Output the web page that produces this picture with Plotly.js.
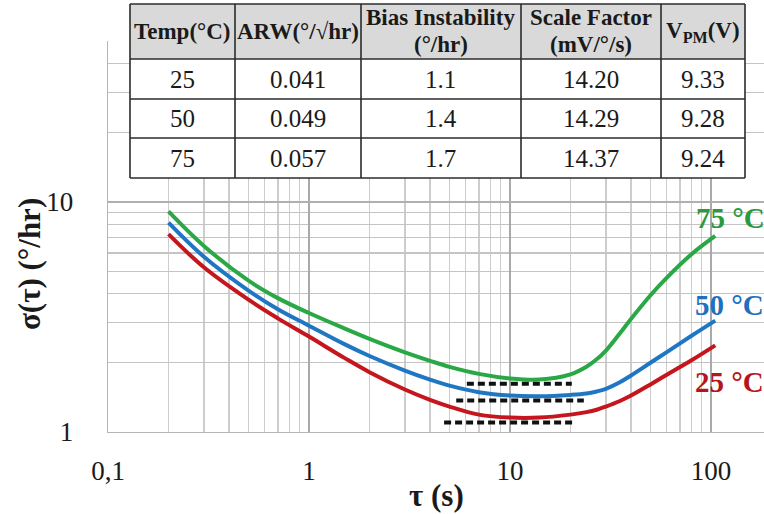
<!DOCTYPE html>
<html>
<head>
<meta charset="utf-8">
<script src="https://cdn.plot.ly/plotly-3.0.1.min.js"></script>
<style>html,body{margin:0;padding:0;background:#fff;}#chart{width:764px;height:514px;}</style>
</head>
<body>
<div id="chart"></div>
<script>
// ---------- data ----------
const tau = [0.2, 0.3, 0.5, 0.7, 1, 1.5, 2, 3, 4, 5, 7, 10, 14, 20, 24, 27, 30, 35, 40, 50, 60, 80, 105];
const sigma75 = [9.1, 6.44, 4.55, 3.82, 3.29, 2.82, 2.54, 2.22, 2.04, 1.92, 1.79, 1.71, 1.69, 1.78, 1.92, 2.07, 2.26, 2.67, 3.1, 3.93, 4.67, 5.93, 7.12];
const sigma50 = [8.13, 5.78, 4.12, 3.42, 2.9, 2.41, 2.14, 1.85, 1.69, 1.59, 1.49, 1.44, 1.43, 1.45, 1.47, 1.5, 1.54, 1.64, 1.76, 2.0, 2.22, 2.62, 3.05];
const sigma25 = [7.25, 5.2, 3.76, 3.12, 2.6, 2.1, 1.82, 1.53, 1.38, 1.29, 1.19, 1.155, 1.155, 1.19, 1.22, 1.25, 1.29, 1.36, 1.44, 1.61, 1.77, 2.05, 2.38];
const seriesNames = ['25 °C', '50 °C', '75 °C'];

// bias-instability dashed markers (25, 50, 75 °C)
const dashStart = [4.7, 5.4, 6.1];
const dashEnd = [20.5, 23.3, 20.3];
const dashLevel = [1.10, 1.37, 1.62];

// axis ticks
const xTickVals = [0.1, 1, 10, 100];
const xTickText = ['0,1', '1', '10', '100'];
const yTickVals = [1, 10];
const yTickText = ['1', '10'];
const xMinorVals = [0.2,0.3,0.4,0.5,0.6,0.7,0.8,0.9,2,3,4,5,6,7,8,9,20,30,40,50,60,70,80,90,200];
const yMinorVals = [2,3,4,5,6,7,8,9,20,30,40,50];

// table
const headerLine1 = ['Temp(°C)', 'ARW(°/√hr)', 'Bias Instability', 'Scale Factor', 'V<sub>PM</sub>(V)'];
const headerLine2 = ['', '', '(°/hr)', '(mV/°/s)', ''];
const tempC = ['25', '50', '75'];
const arw = ['0.041', '0.049', '0.057'];
const biasInst = ['1.1', '1.4', '1.7'];
const scaleFactor = ['14.20', '14.29', '14.37'];
const vpm = ['9.33', '9.28', '9.24'];

// ---------- layout geometry ----------
const W = 764, H = 514;
const M = {l: 108, r: 0, t: 41, b: 82};
const PW = W - M.l - M.r, PH = H - M.t - M.b;
const px = x => (x - M.l) / PW;
const py = y => (H - M.b - y) / PH;

const FONT = 'Liberation Serif, Times New Roman, serif';
const colors = {'25 °C': '#c4161c', '50 °C': '#1f77c4', '75 °C': '#2aa845'};
const labelColors = {'25 °C': '#b5161c', '50 °C': '#1f70bd', '75 °C': '#2a9a3c'};
const seriesData = {'25 °C': sigma25, '50 °C': sigma50, '75 °C': sigma75};

const traces = [];
seriesNames.forEach(n => {
  traces.push({x: tau, y: seriesData[n], type: 'scatter', mode: 'lines', name: n,
    line: {color: colors[n], width: 4, shape: 'spline', smoothing: 1}, hoverinfo: 'skip'});
});
for (let i = 0; i < 3; i++) {
  traces.push({x: [dashStart[i], dashEnd[i]], y: [dashLevel[i], dashLevel[i]], type: 'scatter', mode: 'lines',
    line: {color: '#111', width: 4, dash: '7px,4px'}, hoverinfo: 'skip'});
}

// table geometry (pixels)
const colX = [130, 235, 361, 521, 661, 745];
const rowY = [4, 59, 99, 138, 178];
const shapes = [];
const annotations = [];
const lc = '#2b2b2b';
shapes.push({type: 'rect', xref: 'paper', yref: 'paper', x0: px(colX[0]), x1: px(colX[5]), y0: py(rowY[4]), y1: py(rowY[0]),
  fillcolor: '#ffffff', line: {width: 0}, layer: 'above'});
shapes.push({type: 'rect', xref: 'paper', yref: 'paper', x0: px(colX[0]), x1: px(colX[5]), y0: py(rowY[1]), y1: py(rowY[0]),
  fillcolor: '#d9d9d9', line: {width: 0}, layer: 'above'});
rowY.forEach(y => shapes.push({type: 'line', xref: 'paper', yref: 'paper', x0: px(colX[0]), x1: px(colX[5]), y0: py(y), y1: py(y),
  line: {color: lc, width: 1.6}, layer: 'above'}));
colX.forEach(x => shapes.push({type: 'line', xref: 'paper', yref: 'paper', x0: px(x), x1: px(x), y0: py(rowY[4]), y1: py(rowY[0]),
  line: {color: lc, width: 1.6}, layer: 'above'}));

const textAt = (t, xPix, yPix, size) => ({
  text: t, xref: 'paper', yref: 'paper', x: px(xPix), y: py(yPix),
  xanchor: 'center', yanchor: 'middle', showarrow: false, font: {family: FONT, size: size, color: '#1a1a1a'}
});
headerLine1.forEach((t, ci) => {
  const cx = (colX[ci] + colX[ci + 1]) / 2;
  if (headerLine2[ci]) {
    annotations.push(textAt('<b>' + t + '</b>', cx, 18, 23));
    annotations.push(textAt('<b>' + headerLine2[ci] + '</b>', cx, 44, 23));
  } else {
    annotations.push(textAt('<b>' + t + '</b>', cx, 32, 23));
  }
});
const cols = [tempC, arw, biasInst, scaleFactor, vpm];
cols.forEach((col, ci) => col.forEach((v, ri) => annotations.push(
  textAt(v, (colX[ci] + colX[ci + 1]) / 2, (rowY[ri + 1] + rowY[ri + 2]) / 2, 25))));

// series labels
const labelPos = {'75 °C': [730, 218], '50 °C': [729, 305], '25 °C': [729, 382]};
seriesNames.forEach(n => annotations.push({
  text: '<b>' + n + '</b>', xref: 'paper', yref: 'paper', x: px(labelPos[n][0]), y: py(labelPos[n][1]),
  xanchor: 'center', yanchor: 'middle', showarrow: false, font: {family: FONT, size: 29, color: labelColors[n]}
}));

// axis titles
annotations.push({text: '<b>σ(τ) (°/hr)</b>', xref: 'paper', yref: 'paper', x: px(29), y: py(264), textangle: -90,
  xanchor: 'center', yanchor: 'middle', showarrow: false, font: {family: FONT, size: 31, color: '#1a1a1a'}});
annotations.push({text: '<b>τ (s)</b>', xref: 'paper', yref: 'paper', x: px(437), y: py(495),
  xanchor: 'center', yanchor: 'middle', showarrow: false, font: {family: FONT, size: 31, color: '#1a1a1a'}});

const layout = {
  width: W, height: H, margin: M, showlegend: false,
  font: {family: FONT},
  paper_bgcolor: '#ffffff', plot_bgcolor: '#ffffff',
  xaxis: {type: 'log', range: [-1, (W - M.l) / 201 - 1], tickmode: 'array', tickvals: xTickVals, ticktext: xTickText,
    showgrid: true, gridcolor: '#a9a9a9', gridwidth: 1.3, showline: true, linecolor: '#b5b5b5', linewidth: 1.3,
    ticks: '', ticklabelstandoff: 14, tickfont: {family: FONT, size: 27, color: '#1a1a1a'},
    minor: {tickmode: 'array', tickvals: xMinorVals, showgrid: true, gridcolor: '#cdcdcd', gridwidth: 1.3, ticks: ''},
    zeroline: false, fixedrange: true},
  yaxis: {type: 'log', range: [0, 1.7], tickmode: 'array', tickvals: yTickVals, ticktext: yTickText,
    showgrid: true, gridcolor: '#b0b0b0', gridwidth: 1.3, showline: true, linecolor: '#b5b5b5', linewidth: 1.3,
    ticks: '', ticklabelstandoff: 28, tickfont: {family: FONT, size: 27, color: '#1a1a1a'},
    minor: {tickmode: 'array', tickvals: yMinorVals, showgrid: true, gridcolor: '#c4c4c4', gridwidth: 1.3, ticks: ''},
    zeroline: false, fixedrange: true},
  shapes: shapes, annotations: annotations
};

Plotly.newPlot('chart', traces, layout, {displayModeBar: false, staticPlot: true});
</script>
</body>
</html>
